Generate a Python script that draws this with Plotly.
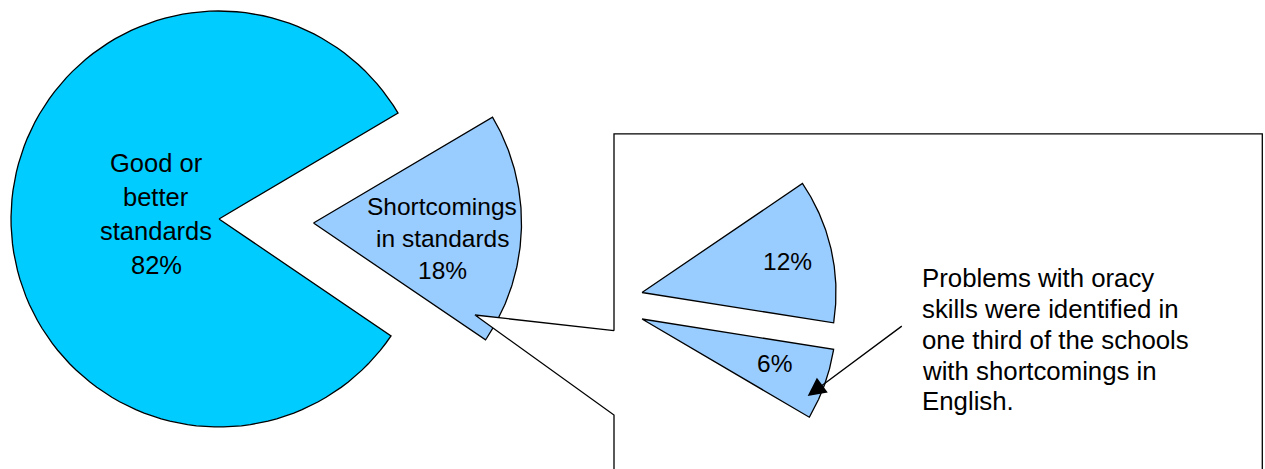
import numpy as np
import plotly.graph_objects as go

# ---- data ----
categories = ["Good or better standards", "Shortcomings in standards"]
shares = [82, 18]
sub_shares = [12, 6]
main_label_lines = ["Good or", "better", "standards", "82%"]
short_label_lines = ["Shortcomings", "in standards", "18%"]
note_lines = ["Problems with oracy", "skills were identified in",
              "one third of the schools", "with shortcomings in", "English."]

# ---- layout constants ----
W, H = 1265, 469
FONT = "Liberation Sans, Arial, sans-serif"
MAIN_C = (219, 219)
MAIN_R = 208
SHORT_C = (313.5, 223)
SPLIT_ANGLE = 30.6          # degrees, edge between the two main slices
SUB_START = 34.2
SUB_CENTERS = [(642, 292.5), (642, 319)]
SUB_R = 194
LW = 1.3


def wedge(c, r, a_from, a_to, n=120):
    """polygon points of a pie wedge (angles in degrees, math convention, y axis downward)"""
    ang = np.radians(np.linspace(a_from, a_to, n))
    xs = [c[0]] + list(c[0] + r * np.cos(ang)) + [c[0]]
    ys = [c[1]] + list(c[1] - r * np.sin(ang)) + [c[1]]
    return xs, ys


fig = go.Figure()

# main "good" slice
good_deg = shares[0] / 100 * 360
x, y = wedge(MAIN_C, MAIN_R, SPLIT_ANGLE, SPLIT_ANGLE + good_deg)
fig.add_trace(go.Scatter(x=x, y=y, mode="lines", fill="toself", fillcolor="#00CCFF",
                         line=dict(color="black", width=LW), hoverinfo="skip"))

# exploded "shortcomings" slice
short_deg = shares[1] / 100 * 360
x, y = wedge(SHORT_C, MAIN_R, SPLIT_ANGLE - short_deg, SPLIT_ANGLE)
fig.add_trace(go.Scatter(x=x, y=y, mode="lines", fill="toself", fillcolor="#99CCFF",
                         line=dict(color="black", width=LW), hoverinfo="skip"))

# callout box (white, drawn over the slice)
box_x = [614, 475, 614, 614, 1262.3, 1262.3, 614, 614]
box_y = [330.7, 315, 415, 500, 500, 133.8, 133.8, 330.7]
fig.add_trace(go.Scatter(x=box_x, y=box_y, mode="lines", fill="toself", fillcolor="white",
                         line=dict(color="black", width=LW), hoverinfo="skip"))

# breakdown slices
a = SUB_START
for v, c in zip(sub_shares, SUB_CENTERS):
    d = v / 100 * 360
    x, y = wedge(c, SUB_R, a - d, a)
    fig.add_trace(go.Scatter(x=x, y=y, mode="lines", fill="toself", fillcolor="#99CCFF",
                             line=dict(color="black", width=LW), hoverinfo="skip"))
    a -= d

ann = []


def block(lines, cx, cy, size, spacing, xanchor="center"):
    n = len(lines)
    for i, t in enumerate(lines):
        ann.append(dict(x=cx, y=cy + (i - (n - 1) / 2) * spacing, text=t, showarrow=False,
                        xanchor=xanchor, yanchor="middle", xref="x", yref="y",
                        font=dict(family=FONT, size=size, color="black")))


block(main_label_lines, 156, 214, 25.5, 34)
block(short_label_lines, 442, 238.7, 24.5, 32)
block([f"{sub_shares[0]}%"], 787.7, 261.7, 24.5, 0)
block([f"{sub_shares[1]}%"], 774, 363.3, 24.5, 0)
block(note_lines, 919.5, 339.7, 25.8, 30.8, xanchor="left")

ann.append(dict(x=807.7, y=396, ax=903.3, ay=325, xref="x", yref="y", axref="x", ayref="y",
                text="", showarrow=True, arrowhead=2, arrowsize=2.8, arrowwidth=1.3,
                arrowcolor="black"))

fig.update_layout(
    width=W, height=H, margin=dict(l=0, r=0, t=0, b=0),
    paper_bgcolor="white", plot_bgcolor="white", showlegend=False,
    xaxis=dict(range=[0, W], visible=False, fixedrange=True),
    yaxis=dict(range=[H, 0], visible=False, fixedrange=True),
    annotations=ann,
)

fig.write_html("out.html")
